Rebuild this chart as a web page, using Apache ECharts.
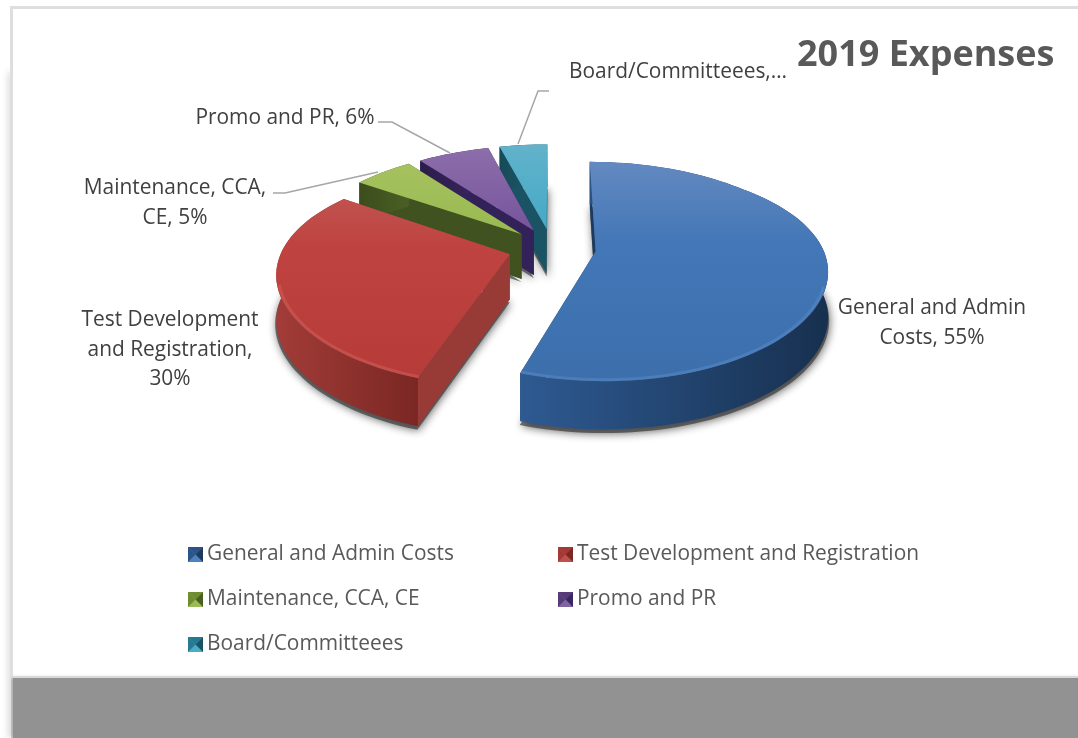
<!DOCTYPE html>
<html><head><meta charset="utf-8">
<style>html,body{margin:0;padding:0;background:#fff}#c{width:1078px;height:738px}</style>
<script src="https://cdn.jsdelivr.net/npm/echarts@6/dist/echarts.min.js"></script>
</head><body><div id="c"></div>
<script>
const titleText = '2019 Expenses';
const categories = ['General and Admin Costs','Test Development and Registration','Maintenance, CCA, CE','Promo and PR','Board/Committeees'];
const values = [55,30,5,6,4];
const labelTexts = ['General and Admin\nCosts, 55%','Test Development\nand Registration,\n30%','Maintenance, CCA,\nCE, 5%','Promo and PR, 6%','Board/Committeees,…'];

const FONT = '"Open Sans","Noto Sans",sans-serif';
const faceTop  = ['#6a8dc2','#c2625f','#a9c463','#8d6fab','#62b2ca'];
const faceMid  = ['#4377b7','#bf4441','#97b84f','#74509a','#3fa9c6'];
const faceLow  = ['#3c6eab','#b63b38','#8fb045','#6c4790','#38a2bf'];
const wallA    = ['#2e5a92','#a23c38','#4a5f24','#3a2760','#1e5f72'];
const wallB    = ['#17304f','#7a2723','#3b4d1c','#2c1c4a','#174a58'];
const sideWall = ['#1d3a60','#983a36','#3f5220','#33215a','#1a5364'];
const rimLight = ['#5587c4','#cf5a56','#aacb60','#8b68b0','#58bcd8'];
const legendDark=['#1c3a5f','#7d2723','#4a5f24','#3a2760','#1a5364'];
const legendMid =['#2b5489','#a43a36','#6f8c33','#573a78','#257a91'];
const legendBase=['#4f81bd','#c0504d','#9bbb59','#8064a2','#4bacc6'];

const labelLayout = [[932,323,'center'],[170,350,'center'],[175,203,'center'],[285,118,'center'],[569,72,'left']];
const leaderPaths = [null,null,[[273,193],[285,193],[378,172]],[[378,122],[392,122],[450,153]],[[549,91],[538,91],[518,144]]];
const legendSlots = [[188,553],[558,553],[188,598],[558,598],[188,643]];
const drawZ = [7,6,5,4,3];

// pie projection
const Cx=552,Cy=248,R=227,EXPL=44,SQ=0.452,PERSP=0.2,DEPTH=45;
const total = values.reduce((a,b)=>a+b,0);
function proj(u,v,drop){
  const k=1/(1+PERSP*v/R);
  return [Cx+u*Math.pow(k,0.8), Cy-SQ*v*k-Math.max(0,v-150)*0.04+(drop?DEPTH*Math.pow(k,0.3):0)];
}
function sliceGeom(i){
  let before=0; for(let j=0;j<i;j++) before+=values[j];
  const a0=before/total*2*Math.PI, a1=(before+values[i])/total*2*Math.PI, mid=(a0+a1)/2;
  const ex=EXPL*Math.sin(mid), ey=EXPL*Math.cos(mid);
  const n=Math.max(4,Math.ceil((a1-a0)/(Math.PI/90)));
  const arc=(drop,r)=>{const a=[];for(let t=0;t<=n;t++){const th=a0+(a1-a0)*t/n;a.push(proj(ex+r*Math.sin(th),ey+r*Math.cos(th),drop));}return a;};
  return {ex,ey,arc,apex:d=>proj(ex,ey,d)};
}
const grad=(x,y,x2,y2,stops)=>({type:'linear',x,y,x2,y2,global:true,colorStops:stops.map((c,i)=>({offset:c[0],color:c[1]}))});

function makeRender(i){
  return function(params,api){
    const g=sliceGeom(i), top=g.arc(false,R), bot=g.arc(true,R), ax=g.apex(false), ab=g.apex(true);
    const kids=[];
    // soft shadow below the base
    const sh=g.arc(true,R+1).map(p=>[p[0],p[1]+3]);
    kids.push({type:'polygon',shape:{points:[[ab[0],ab[1]+3]].concat(sh)},
      style:{fill:'rgba(60,60,60,0.7)',shadowBlur:9,shadowColor:'rgba(30,30,30,0.9)',shadowOffsetX:1,shadowOffsetY:1}});
    // radial cut walls
    const first=top[0],last=top[top.length-1],fb=bot[0],lb=bot[bot.length-1];
    kids.push({type:'polygon',shape:{points:[ax,first,fb,ab]},style:{fill:sideWall[i]}});
    kids.push({type:'polygon',shape:{points:[ax,last,lb,ab]},style:{fill:sideWall[i]}});
    // outer rim wall
    const xs=top.map(p=>p[0]);const minX=Math.min.apply(null,xs),maxX=Math.max.apply(null,xs);
    kids.push({type:'polygon',shape:{points:top.concat(bot.slice().reverse())},
      style:{fill:grad(i===0?minX:maxX,0,i===0?maxX:minX,0,i===1?[[0,wallB[1]],[1,wallA[1]]]:[[0,wallA[i]],[1,wallB[i]]])}});
    // top face
    kids.push({type:'polygon',shape:{points:[ax].concat(top)},
      style:{fill:grad(0,145,0,390,[[0,faceTop[i]],[0.4,faceMid[i]],[1,faceLow[i]]])}});
    // highlight on the near rim, kept just inside the edge
    const near=g.arc(false,R-2).filter(p=>p[1]>Cy+36);
    if(near.length>2){
      kids.push({type:'polyline',shape:{points:near},style:{fill:null,stroke:rimLight[i],lineWidth:3,opacity:0.6}});
    }
    // leader + data label
    if(leaderPaths[i]) kids.push({type:'polyline',shape:{points:leaderPaths[i]},style:{fill:null,stroke:'#a6a6a6',lineWidth:1.5}});
    const L=labelLayout[i];
    kids.push({type:'text',style:{text:labelTexts[i],x:L[0],y:L[1],align:L[2],verticalAlign:'middle',
      fill:'#404040',font:'20.9px '+FONT,lineHeight:29.5}});
    return {type:'group',children:kids};
  };
}
const series=categories.map((name,i)=>({
  type:'custom',name,coordinateSystem:'none',z:drawZ[i],silent:true,animation:false,
  itemStyle:{color:legendBase[i]},
  data:[values[i]],renderItem:makeRender(i)
}));
const legends=categories.map((name,i)=>({
  show:true,data:[name],orient:'horizontal',left:legendSlots[i][0],top:legendSlots[i][1]-13,padding:0,
  itemWidth:15,itemHeight:15,itemGap:0,icon:'rect',selectedMode:false,
  textStyle:{color:'#595959',fontFamily:FONT,fontSize:20.9,padding:[1,0,0,-1],lineHeight:28}
}));
const swatch=[];
categories.forEach((n,i)=>{
  const x=legendSlots[i][0],y=legendSlots[i][1]-6,s=15,c=[x+s/2,y+s/2];
  const tri=(a,b,col)=>swatch.push({type:'polygon',z:20,silent:true,shape:{points:[a,b,c]},style:{fill:col}});
  tri([x,y],[x+s,y],legendMid[i]);
  tri([x,y],[x,y+s],legendMid[i]);
  tri([x+s,y],[x+s,y+s],legendDark[i]);
});
const frame=[
  {type:'rect',z:-6,silent:true,shape:{x:11,y:72,width:2,height:666},style:{fill:'#d0d0d0',shadowBlur:6,shadowColor:'rgba(0,0,0,0.35)',shadowOffsetX:-2}},
  {type:'rect',z:-5,silent:true,shape:{x:10,y:6,width:1068,height:3},style:{fill:'#dedede'}},
  {type:'rect',z:-5,silent:true,shape:{x:10,y:6,width:3,height:672},style:{fill:'#dedede'}},
  {type:'rect',z:-4,silent:true,shape:{x:13,y:9,width:1065,height:668},style:{fill:'#ffffff'}},
  {type:'rect',z:-4,silent:true,shape:{x:13,y:678,width:1065,height:60},style:{fill:'#929292',shadowBlur:4,shadowColor:'rgba(0,0,0,0.35)'}},
  {type:'rect',z:-3,silent:true,shape:{x:12,y:676,width:1066,height:2},style:{fill:'#d8d8d8'}}
];
const chart=echarts.init(document.getElementById('c'),null,{renderer:'canvas'});
chart.setOption({
  animation:false,backgroundColor:'#ffffff',
  title:{text:titleText,left:797,top:38,padding:0,textStyle:{fontFamily:FONT,fontSize:36,fontWeight:'bold',color:'#595959'}},
  legend:legends,series,graphic:{elements:frame.concat(swatch)}
});
</script></body></html>
